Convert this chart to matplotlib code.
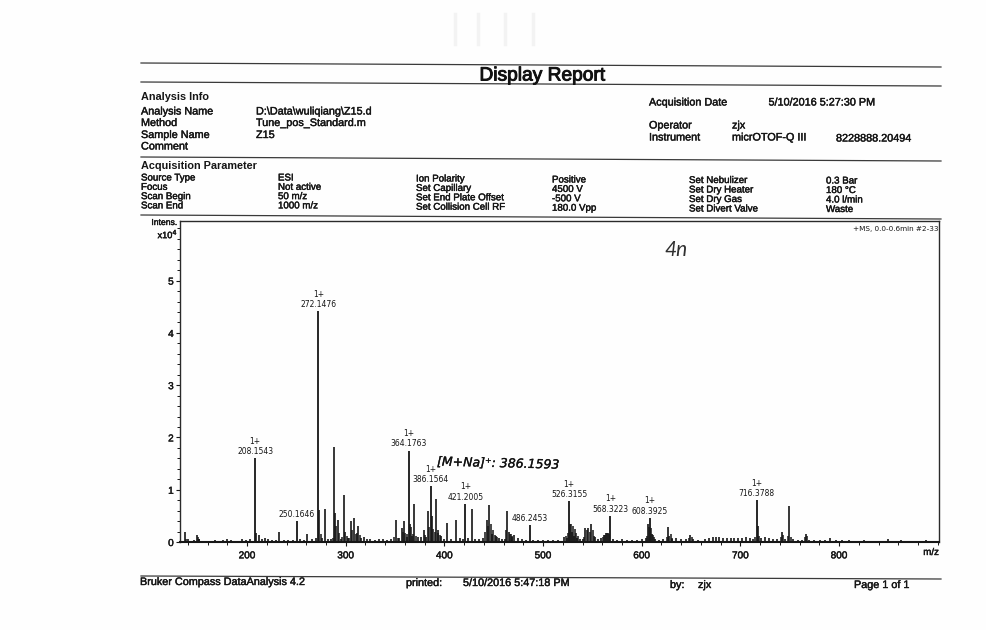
import matplotlib
matplotlib.use("Agg")
import matplotlib.pyplot as plt
import matplotlib.patheffects as pe
from matplotlib.lines import Line2D
from matplotlib.ticker import MultipleLocator, FixedLocator

# ---------- data ----------
labelled_mz = [208.1543, 250.1646, 272.1476, 364.1763, 386.1564, 421.2005,
               486.2453, 526.3155, 568.3223, 608.3925, 716.3788]
labelled_int = [1.60, 0.40, 4.41, 1.75, 1.07, 0.73, 0.32, 0.78, 0.50, 0.46, 0.80]
labelled_charge = ["1+", "", "1+", "1+", "1+", "1+", "", "1+", "1+", "1+", "1+"]

major_mz = [137, 149, 209.5, 212, 218, 232, 261, 273, 278.5, 288, 289.6, 292, 298, 299.5,
            305, 308.6, 312.6, 318.6, 351, 356.8, 359, 365.5, 369.5, 379, 383, 387, 391.5,
            394, 403, 412, 427.7, 443, 445.5, 452, 463.6, 465, 527.5, 529, 531,
            543, 546, 549, 562, 564, 566, 606.5, 610, 626.6, 628, 648.9, 717.5, 742, 749.5, 766]
major_int = [0.20, 0.13, 0.18, 0.13, 0.08, 0.20, 0.15, 0.62, 0.63, 1.82, 0.55, 0.43, 0.89, 0.20,
             0.40, 0.45, 0.30, 0.10, 0.43, 0.26, 0.40, 0.35, 0.73, 0.23, 0.60, 0.50, 0.82,
             0.22, 0.36, 0.43, 0.63, 0.42, 0.71, 0.12, 0.60, 0.20, 0.35, 0.20, 0.12,
             0.27, 0.27, 0.35, 0.14, 0.17, 0.17, 0.35, 0.16, 0.28, 0.12, 0.14, 0.30, 0.20, 0.68, 0.15]

cluster_mz = [138, 150, 151.5, 274.5, 287, 290.5, 293.5, 296.5, 301, 303, 306.5, 310, 311, 314, 349, 353,
              358, 360.5, 362, 366.5, 368, 371, 380.5, 384.5, 388.5, 390, 393, 395.5, 441.5, 444, 447,
              449, 451, 453.5, 462, 466.5, 467.5, 469, 523.5, 525, 528, 530, 532.5, 533.5, 535,
              541.5, 544.5, 547.5, 550.5, 552, 560.5, 563, 565, 567, 605.5, 607.5, 609.5, 611.5,
              612.5, 625.5, 629.5, 631, 647.5, 650.5, 715, 719, 741, 743.5, 748, 751, 765, 767.5]
cluster_int = [0.06, 0.09, 0.06, 0.15, 0.08, 0.30, 0.18, 0.10, 0.12, 0.08, 0.22, 0.15, 0.18, 0.14, 0.10, 0.08,
               0.20, 0.18, 0.16, 0.28, 0.15, 0.12, 0.14, 0.28, 0.25, 0.20, 0.18, 0.14, 0.20, 0.30, 0.35,
               0.22, 0.14, 0.10, 0.22, 0.16, 0.15, 0.11, 0.12, 0.18, 0.35, 0.30, 0.25, 0.18, 0.12,
               0.10, 0.22, 0.20, 0.22, 0.12, 0.10, 0.14, 0.18, 0.15, 0.12, 0.28, 0.26, 0.14,
               0.10, 0.10, 0.15, 0.08, 0.08, 0.10, 0.10, 0.12, 0.10, 0.13, 0.12, 0.10, 0.09, 0.11]

grass_mz = [140, 146, 151, 155, 163, 167, 176, 180, 184, 195, 199, 203, 215, 221, 225, 229, 237,
            241, 247, 254, 258, 266, 270, 276, 282, 285, 295, 302, 315, 322, 325, 330, 334, 338,
            342, 346, 354, 362, 367, 373, 376, 381, 397, 400, 407, 416, 419, 424, 431, 435, 439,
            448, 455, 458, 461, 468, 471, 475, 479, 483, 490, 495, 500, 505, 510, 515, 521, 524,
            534, 537, 540, 553, 556, 559, 571, 575, 580, 585, 590, 595, 600, 604, 613, 617, 622,
            631, 635, 640, 645, 652, 657, 664, 668, 672, 675, 678, 682, 686, 690, 694, 698, 702,
            706, 710, 713, 721, 725, 729, 733, 737, 745, 753, 758, 762, 770, 775, 781, 786, 791,
            797, 803, 810, 818, 825, 832, 841, 850, 857, 863, 870, 880, 888, 896]
grass_int = [0.05, 0.03, 0.06, 0.02, 0.02, 0.03, 0.04, 0.05, 0.04, 0.06, 0.04, 0.05, 0.06, 0.06, 0.04, 0.03, 0.03,
             0.04, 0.04, 0.05, 0.04, 0.05, 0.07, 0.08, 0.05, 0.06, 0.05, 0.08, 0.08, 0.06, 0.05, 0.04, 0.05, 0.05,
             0.04, 0.05, 0.08, 0.10, 0.12, 0.10, 0.09, 0.10, 0.12, 0.06, 0.06, 0.07, 0.05, 0.07, 0.06, 0.05, 0.08,
             0.15, 0.07, 0.06, 0.06, 0.10, 0.14, 0.07, 0.05, 0.04, 0.04, 0.04, 0.03, 0.03, 0.03, 0.03, 0.10, 0.08,
             0.07, 0.06, 0.05, 0.10, 0.06, 0.07, 0.05, 0.04, 0.05, 0.03, 0.04, 0.04, 0.05, 0.08, 0.06, 0.04, 0.05,
             0.06, 0.07, 0.05, 0.05, 0.05, 0.04, 0.06, 0.07, 0.09, 0.10, 0.09, 0.07, 0.08, 0.07, 0.08, 0.07, 0.08,
             0.09, 0.07, 0.06, 0.08, 0.09, 0.07, 0.05, 0.05, 0.06, 0.06, 0.04, 0.04, 0.03, 0.04, 0.04, 0.03, 0.07,
             0.03, 0.03, 0.03, 0.02, 0.03, 0.02, 0.02, 0.05, 0.02, 0.04, 0.02, 0.02, 0.03, 0.02]

x_major = [200, 300, 400, 500, 600, 700, 800]
y_major = [0, 1, 2, 3, 4, 5]

# ---------- helpers ----------
W, H = 987, 630
INK = "#161616"
SANS = "Liberation Sans"
plt.rcParams["font.family"] = SANS

fig = plt.figure(figsize=(W / 100, H / 100), dpi=100, facecolor="#fefefe")
HEAVY = [pe.withStroke(linewidth=0.3, foreground=INK)]


def T(x, y, s, size=7.8, weight="normal", ha="left", stroke=0.3, **kw):
    kw.setdefault("color", INK)
    kw.setdefault("va", "center")
    t = fig.text(x / W, 1 - y / H, s, fontsize=size, fontweight=weight, ha=ha, **kw)
    if stroke:
        t.set_path_effects([pe.withStroke(linewidth=stroke, foreground=kw["color"])])


def L(x0, y0, x1, y1, lw=0.9, color="#3a3a3a"):
    fig.add_artist(Line2D([x0 / W, x1 / W], [1 - y0 / H, 1 - y1 / H],
                          transform=fig.transFigure, lw=lw, color=color))


# faint scan marks near the top of the page
for sx in (455, 478, 505, 533):
    L(sx, 14, sx, 44, lw=2.5, color="#f3f3f3")

# page rules (the scan is slightly tilted)
L(141, 63, 941, 67)
L(141, 82, 941, 86)
L(141, 157, 941, 161)
L(141, 215, 941, 219)
L(141, 576, 941, 579)

# header
T(542, 76, "Display Report", size=13.8, ha="center", color="#111111", stroke=0.7)
T(141, 97, "Analysis Info", weight="bold", stroke=0)
for y, a, b in [(111.5, "Analysis Name", "D:\\Data\\wuliqiang\\Z15.d"),
                (123, "Method", "Tune_pos_Standard.m"),
                (135, "Sample Name", "Z15"),
                (146.5, "Comment", "")]:
    T(141, y, a)
    T(256, y, b)
T(649, 102.5, "Acquisition Date")
T(768.5, 102.5, "5/10/2016 5:27:30 PM")
T(649, 125.5, "Operator")
T(732, 125.5, "zjx")
T(649, 137.5, "Instrument")
T(732, 137.5, "micrOTOF-Q III")
T(836, 138.5, "8228888.20494")

T(141, 166, "Acquisition Parameter", weight="bold", stroke=0)
rows_a = [("Source Type", "ESI"), ("Focus", "Not active"),
          ("Scan Begin", "50 m/z"), ("Scan End", "1000 m/z")]
rows_b = [("Ion Polarity", "Positive"), ("Set Capillary", "4500 V"),
          ("Set End Plate Offset", "-500 V"), ("Set Collision Cell RF", "180.0 Vpp")]
rows_c = [("Set Nebulizer", "0.3 Bar"), ("Set Dry Heater", "180 °C"),
          ("Set Dry Gas", "4.0 l/min"), ("Set Divert Valve", "Waste")]
for i, (a, b) in enumerate(rows_a):
    T(141, 177.5 + 9.3 * i, a, size=7)
    T(278, 177.5 + 9.3 * i, b, size=7)
for i, (a, b) in enumerate(rows_b):
    T(416, 178.5 + 9.4 * i, a, size=7)
    T(552, 179.5 + 9.4 * i, b, size=7)
for i, (a, b) in enumerate(rows_c):
    T(689, 180 + 9.5 * i, a, size=7)
    T(826, 180.5 + 9.5 * i, b, size=7)

# footer
T(140, 582, "Bruker Compass DataAnalysis 4.2")
T(406, 583, "printed:")
T(463, 583, "5/10/2016 5:47:18 PM")
T(670, 585, "by:")
T(698, 585, "zjx")
T(854, 585, "Page 1 of 1")

# ---------- spectrum ----------
AX_L, AX_R, AX_T, AX_B = 180, 939, 221, 542
ax = fig.add_axes([AX_L / W, 1 - AX_B / H, (AX_R - AX_L) / W, (AX_B - AX_T) / H])
ax.set_facecolor("none")
ax.set_xlim(132, 901.3)
ax.set_ylim(0, 6.14)

ax.vlines(grass_mz, 0, grass_int, color=INK, lw=1.2)
ax.vlines(cluster_mz, 0, cluster_int, color=INK, lw=1.1)
ax.vlines(major_mz, 0, major_int, color=INK, lw=1.2)
ax.vlines(labelled_mz, 0, labelled_int, color=INK, lw=1.3)

for mz, v, c in zip(labelled_mz, labelled_int, labelled_charge):
    s = f"{c}\n{mz:.4f}" if c else f"{mz:.4f}"
    ax.annotate(s, (mz, v), xytext=(0, 1.5), textcoords="offset points",
                ha="center", va="bottom", fontsize=5.5, family="DejaVu Sans",
                color=INK, linespacing=1.2)

for side in ("top", "right", "left"):
    ax.spines[side].set_linewidth(1.0)
    ax.spines[side].set_color("#2a2a2a")
ax.spines["bottom"].set_linewidth(1.5)
ax.spines["bottom"].set_color(INK)

ax.xaxis.set_major_locator(FixedLocator(x_major))
ax.xaxis.set_minor_locator(MultipleLocator(20))
ax.yaxis.set_major_locator(FixedLocator(y_major))
ax.yaxis.set_minor_locator(MultipleLocator(0.2))
ax.tick_params(axis="both", which="major", length=3, width=0.8, labelsize=7.2,
               pad=1.5, colors=INK)
ax.tick_params(axis="both", which="minor", length=2, width=0.7, colors=INK)
ax.tick_params(axis="x", which="major", pad=3)
for t in ax.get_xticklabels() + ax.get_yticklabels():
    t.set_fontfamily(SANS)
    t.set_path_effects(HEAVY)

T(177.5, 222.5, "Intens.", size=6.2, ha="right")
T(178, 234, "x10$^{4}$", size=6.6, ha="right")
T(939, 229, "+MS, 0.0-0.6min #2-33", size=5.2, ha="right", family="DejaVu Sans", stroke=0)
T(939, 552, "m/z", size=7, ha="right")

# handwritten notes
T(664, 250, "4n", size=15, family="Lato", style="italic", color="#303030", stroke=0)
T(437, 462, "[M+Na]⁺: 386.1593", size=9, family="DejaVu Sans", style="oblique",
  color="#111111", rotation=-1.5, rotation_mode="anchor", stroke=0.2)

fig.savefig("out.png", dpi=100, facecolor=fig.get_facecolor())
